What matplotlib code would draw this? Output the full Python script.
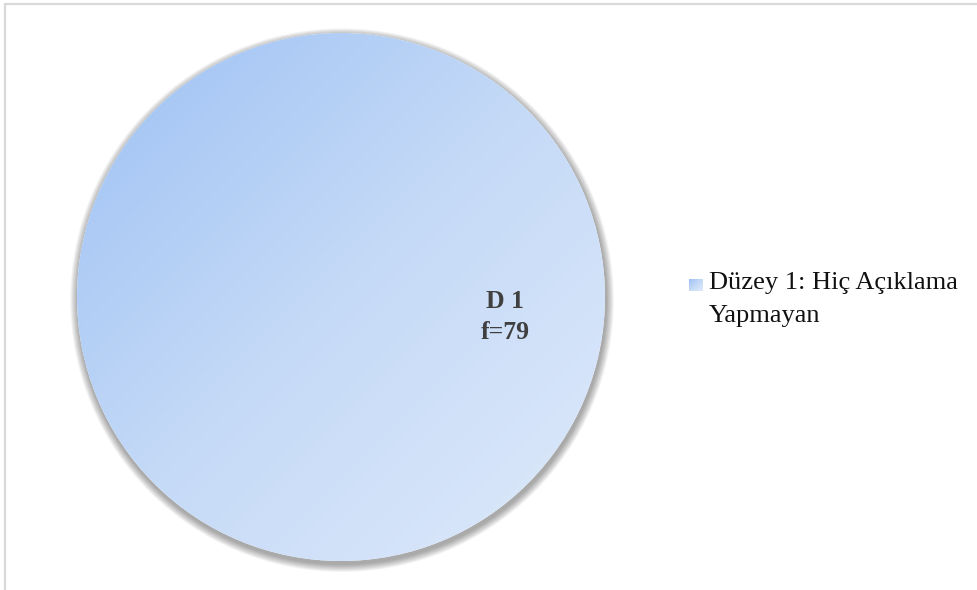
import numpy as np
import matplotlib
matplotlib.use("Agg")
import matplotlib.pyplot as plt
from matplotlib.colors import LinearSegmentedColormap
from matplotlib.patches import Rectangle, Circle

# data
categories = ["Düzey 1: Hiç Açıklama\nYapmayan"]
short_labels = ["D 1"]
counts = [79]

plt.rcParams['font.family'] = ['Liberation Serif', 'DejaVu Serif']

W, H = 977, 590
fig = plt.figure(figsize=(W / 100, H / 100), dpi=100)

# outer frame (light gray, right/bottom run off the picture)
fig.patches.append(Rectangle((5 / W, -0.02), 1.05, (H - 4) / H + 0.02,
                             transform=fig.transFigure, fill=False,
                             edgecolor="#d9d9d9", linewidth=1.6))

cx, cy, r = 341, 297, 264
m = 1.1  # axes a bit larger than the pie so nothing is clipped
ax = fig.add_axes([(cx - m * r) / W, (H - cy - m * r) / H, 2 * m * r / W, 2 * m * r / H])
ax.set_aspect("equal")

grad = LinearSegmentedColormap.from_list("blu", ["#9dc1f4", "#c5daf7", "#dfeafb"])

# soft blurred shadow under the pie, slightly lower
n = 12
for k in range(n):
    rr = 1.0 + 0.03 * (1 - k / n)
    ax.add_patch(Circle((0.004, -0.012), rr, color="black", alpha=0.03,
                        lw=0, zorder=0))

wedges = ax.pie(counts, startangle=-180, radius=1.0,
                wedgeprops=dict(facecolor="none", edgecolor="none"))[0]
ax.set_xlim(-m, m)
ax.set_ylim(-m, m)

# diagonal gradient fill clipped to each wedge
xx, yy = np.meshgrid(np.linspace(0, 1, 400), np.linspace(0, 1, 400))
g = (xx + yy) / 2
ax.add_patch(Circle((0, 0), 1.0, color="white", lw=0, zorder=1))
for w in wedges:
    im = ax.imshow(g, cmap=grad, extent=(-1, 1, -1, 1), origin="upper",
                   zorder=2, interpolation="bilinear")
    im.set_clip_path(w)

# value label inside the slice
for w, s, c in zip(wedges, short_labels, counts):
    ang = np.deg2rad((w.theta1 + w.theta2) / 2)
    pos = (0.623 * np.cos(ang), 0.623 * np.sin(ang))
    for line, dy in [(s, -11), (f"f={c}", -42)]:
        ax.annotate(line, pos, xytext=(0, dy), textcoords="offset pixels",
                    ha="center", va="baseline", fontsize=18.5,
                    fontweight="bold", color="#404040", zorder=5)
ax.axis("off")

# legend: gradient square + text
lax = fig.add_axes([689 / W, (H - 291) / H, 14 / W, 12 / H])
lax.imshow(g, cmap=grad, extent=(0, 1, 0, 1), origin="upper", aspect="auto")
lax.axis("off")
for i, line in enumerate(categories[0].split("\n")):
    fig.text(709 / W, (H - 289 - 33 * i) / H, line, ha="left", va="baseline",
             fontsize=19, color="#111111")

fig.savefig("out.png", dpi=100)
